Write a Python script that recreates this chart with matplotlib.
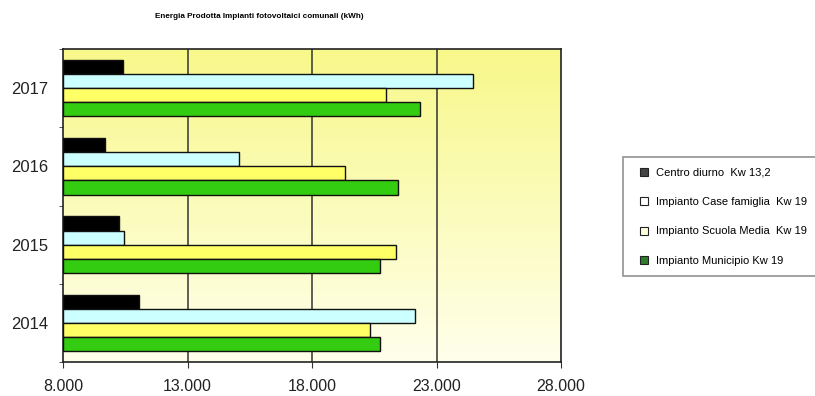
import numpy as np
import matplotlib
matplotlib.use("Agg")
import matplotlib.pyplot as plt
from matplotlib.lines import Line2D
from matplotlib.colors import LinearSegmentedColormap
from matplotlib import font_manager

years = ["2014", "2015", "2016", "2017"]
series_names = [
    "Centro diurno  Kw 13,2",
    "Impianto Case famiglia  Kw 19",
    "Impianto Scuola Media  Kw 19",
    "Impianto Municipio Kw 19",
]
centro_diurno = [11050, 10250, 9690, 10410]
case_famiglia = [22140, 10450, 15070, 24470]
scuola_media = [20330, 21370, 19330, 20970]
municipio = [20730, 20730, 21450, 22340]
series_values = [centro_diurno, case_famiglia, scuola_media, municipio]
x_ticks = [8000, 13000, 18000, 23000, 28000]
x_tick_labels = ["8.000", "13.000", "18.000", "23.000", "28.000"]

bar_colors = ["#000000", "#CCFFFF", "#FFFF66", "#33CC11"]
legend_colors = ["#444444", "#FFFFFF", "#FFFFE0", "#2E7D2E"]

installed = {f.name for f in font_manager.fontManager.ttflist}
narrow = "Liberation Sans Narrow" if "Liberation Sans Narrow" in installed else "Liberation Sans"
base = "Liberation Sans"

fig = plt.figure(figsize=(8.15, 3.96), dpi=100)
ax = fig.add_axes([63 / 815, 1 - 362 / 396, (561 - 63) / 815, (362 - 49) / 396])

# vertical yellow gradient for the plot area
grad = np.linspace(0, 1, 256).reshape(-1, 1)
cmap = LinearSegmentedColormap.from_list("bg", ["#FFFFEC", "#F8F88A"])
ax.imshow(grad, aspect="auto", cmap=cmap, origin="lower",
          extent=[0, 1, 0, 1], transform=ax.transAxes, zorder=0)

bar_h = 0.18
y = np.arange(len(years))
for i, (vals, col) in enumerate(zip(series_values, bar_colors)):
    offset = (1.5 - i) * bar_h
    widths = [v - x_ticks[0] for v in vals]
    ax.barh(y + offset, widths, height=bar_h, left=x_ticks[0], color=col,
            edgecolor="#111111", linewidth=1.0, zorder=3)

ax.set_xlim(x_ticks[0], x_ticks[-1])
ax.set_ylim(-0.5, len(years) - 0.5)
ax.set_xticks(x_ticks)
ax.set_xticklabels(x_tick_labels, fontsize=11.5, color="#222222", family=base)
ax.set_yticks(y)
ax.set_yticklabels(years, fontsize=12, color="#222222", family=base)
ax.tick_params(axis="y", length=0, pad=10.5)
ax.set_yticks(np.arange(-0.5, len(years)), minor=True)
ax.tick_params(axis="y", which="minor", length=3, color="#333333")
ax.tick_params(axis="x", length=4, color="#333333", pad=8)
for gx in x_ticks[1:-1]:
    ax.axvline(gx, color="#333333", linewidth=1.1, zorder=1)
for s in ax.spines.values():
    s.set_color("#222222")
    s.set_linewidth(1.2)

fig.text(259 / 815, 1 - 17 / 396, "Energia Prodotta Impianti fotovoltaici comunali (kWh)",
         ha="center", va="center", fontsize=5.9, fontweight="bold", family=narrow)

handles = [Line2D([], [], marker="s", linestyle="none", markersize=6,
                  markerfacecolor=c, markeredgecolor="#222222", markeredgewidth=0.8)
           for c in legend_colors]
leg = fig.legend(handles, series_names, loc="upper left",
                 bbox_to_anchor=(623 / 815, 1 - 157 / 396),
                 prop={"family": narrow, "size": 8.0},
                 frameon=True, fancybox=False, handlelength=1.8,
                 handletextpad=0.2, labelspacing=1.75, borderpad=0.95,
                 borderaxespad=0)
leg.get_frame().set_edgecolor("#777777")
leg.get_frame().set_linewidth(1.2)

fig.savefig("out.png", dpi=100)
